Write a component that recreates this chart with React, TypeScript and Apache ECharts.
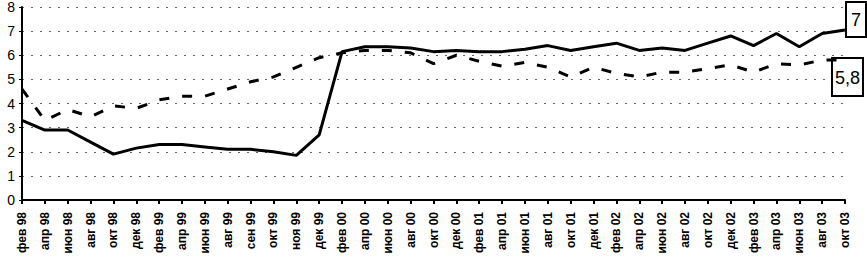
import React, { useEffect, useRef } from "react";
import * as echarts from "echarts";

const categories = [
  "фев 98", "апр 98", "июн 98", "авг 98", "окт 98", "дек 98",
  "фев 99", "апр 99", "июн 99", "авг 99", "сен 99", "окт 99", "ноя 99", "дек 99",
  "фев 00", "апр 00", "июн 00", "авг 00", "окт 00", "дек 00",
  "фев 01", "апр 01", "июн 01", "авг 01", "окт 01", "дек 01",
  "фев 02", "апр 02", "июн 02", "авг 02", "окт 02", "дек 02",
  "фев 03", "апр 03", "июн 03", "авг 03", "окт 03",
];

const solidValues = [
  3.3, 2.9, 2.9, 2.4, 1.9, 2.15, 2.3, 2.3, 2.2, 2.1, 2.1, 2.0, 1.85, 2.7,
  6.15, 6.35, 6.35, 6.3, 6.15, 6.2, 6.15, 6.15, 6.25, 6.4, 6.2, 6.35,
  6.5, 6.2, 6.3, 6.2, 6.5, 6.8, 6.4, 6.9, 6.35, 6.9, 7.05,
];

const dashedValues = [
  4.6, 3.3, 3.75, 3.45, 3.9, 3.8, 4.15, 4.3, 4.3, 4.6, 4.9, 5.1, 5.5, 5.9,
  6.1, 6.2, 6.2, 6.1, 5.65, 6.0, 5.75, 5.55, 5.7, 5.5, 5.1, 5.5,
  5.25, 5.1, 5.3, 5.3, 5.45, 5.6, 5.3, 5.65, 5.6, 5.8, 5.8,
];

const solidEndLabel = "7";
const dashedEndLabel = "5,8";

export default function App() {
  const ref = useRef<HTMLDivElement>(null);
  useEffect(() => {
    if (!ref.current) return;
    document.body.style.margin = "0";
    document.documentElement.style.overflow = "hidden";
    const chart = echarts.init(ref.current, undefined, { renderer: "svg" });
    const last = categories.length - 1;
    chart.setOption({
      animation: false,
      backgroundColor: "#fff",
      grid: { left: 22, right: 22, top: 7, bottom: 62 },
      xAxis: {
        type: "category",
        data: categories,
        boundaryGap: false,
        axisLine: { lineStyle: { color: "#000", width: 2 } },
        axisTick: { show: true, alignWithLabel: true, length: 4, lineStyle: { color: "#000", width: 2 } },
        axisLabel: {
          interval: 0,
          rotate: 90,
          color: "#000",
          fontFamily: "Arial, Liberation Sans, sans-serif",
          fontSize: 12,
          fontWeight: "bold",
          margin: 12,
        },
        splitLine: { show: false },
      },
      yAxis: {
        type: "value",
        min: 0,
        max: 8,
        interval: 1,
        axisLine: { show: true, lineStyle: { color: "#000", width: 2 } },
        axisTick: { show: true, length: 3, lineStyle: { color: "#000" } },
        axisLabel: {
          color: "#000",
          fontFamily: "Arial, Liberation Sans, sans-serif",
          fontSize: 14,
          margin: 7,
        },
        splitLine: {
          show: true,
          lineStyle: { color: "#666", width: 1, type: [2, 7] },
        },
      },
      series: [
        {
          type: "line",
          data: solidValues,
          symbol: "none",
          lineStyle: { color: "#000", width: 3 },
          z: 3,
        },
        {
          type: "line",
          data: dashedValues,
          symbol: "none",
          lineStyle: { color: "#000", width: 3, type: [10, 13] },
          z: 2,
        },
      ],
    });

    const box = (text: string, value: number, dx: number, dy: number, w: number, h: number) => {
      const [px, py] = chart.convertToPixel({ gridIndex: 0 }, [last, value]) as number[];
      return {
        type: "group",
        x: px + dx,
        y: py + dy,
        z: 100,
        children: [
          {
            type: "rect",
            shape: { x: 0, y: 0, width: w, height: h },
            style: { fill: "#fff", stroke: "#000", lineWidth: 2 },
          },
          {
            type: "text",
            x: w / 2,
            y: h / 2 + 1,
            style: {
              text,
              fill: "#000",
              font: "18px Arial, 'Liberation Sans', sans-serif",
              align: "center",
              verticalAlign: "middle",
            },
          },
        ],
      };
    };

    chart.setOption({
      graphic: [
        box(solidEndLabel, solidValues[last], 1, -28, 20, 35),
        box(dashedEndLabel, dashedValues[last], -13, -2, 31, 38),
      ],
    });
    return () => chart.dispose();
  }, []);
  return (
    <div
      ref={ref}
      style={{ position: "fixed", left: 0, top: 0, width: 867, height: 262 }}
    />
  );
}
